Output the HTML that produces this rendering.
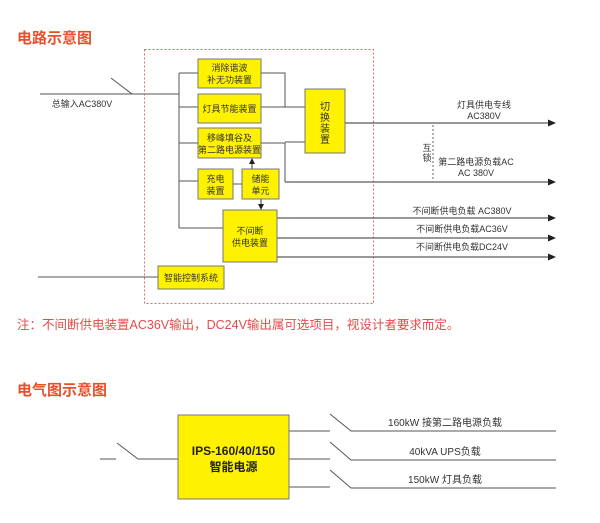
<!DOCTYPE html>
<html><head><meta charset="utf-8"><style>
html,body{margin:0;padding:0;background:#fff;}
svg{display:block;}
text{font-family:"Liberation Sans","Noto Sans CJK SC",sans-serif;}
</style></head><body>
<svg width="600" height="523" viewBox="0 0 600 523" xmlns="http://www.w3.org/2000/svg">
<defs><marker id="a" markerWidth="8" markerHeight="8" refX="7" refY="4" orient="auto" markerUnits="userSpaceOnUse"><path d="M0,0.5 L8,4 L0,7.5z" fill="#222"/></marker>
<marker id="s" markerWidth="6" markerHeight="6" refX="5" refY="3" orient="auto" markerUnits="userSpaceOnUse"><path d="M0,0 L6,3 L0,6z" fill="#222"/></marker></defs>
<text x="17" y="43" font-size="15" font-weight="bold" fill="#e8502a">电路示意图</text>
<rect x="144.5" y="49.5" width="229" height="254" fill="none" stroke="#e06a6a" stroke-dasharray="2,2" stroke-width="1"/>
<g stroke="#555" stroke-width="1" fill="none">
<path d="M40 94H111L132 94H179"/>
<path d="M111 78L132 94"/>
<path d="M179 73V228"/>
<path d="M179 73H198M179 107H198M179 143H198M179 181H198M179 228H223"/>
<path d="M233 184H242"/>
<path d="M261 73H285V107H305M261 107H285"/>
<path d="M261 143H285V182"/>
<path d="M285 142H305"/>
<path d="M38 277H158"/>
</g>
<g stroke="#333" stroke-width="1" fill="none">
<path d="M345 123H555" marker-end="url(#a)"/>
<path d="M285 182H555" marker-end="url(#a)"/>
<path d="M277 218H555" marker-end="url(#a)"/>
<path d="M277 238H555" marker-end="url(#a)"/>
<path d="M277 257H555" marker-end="url(#a)"/>
<path d="M252 169V159" marker-end="url(#s)"/>
<path d="M261 199V209" marker-end="url(#s)"/>
<path d="M433 125V181" stroke-dasharray="2,2" stroke="#666"/>
</g>
<g fill="#fff200" stroke="#777" stroke-width="1">
<rect x="198" y="59" width="63" height="29"/>
<rect x="198" y="94" width="63" height="29"/>
<rect x="198" y="128" width="63" height="30"/>
<rect x="198" y="169" width="35" height="30"/>
<rect x="242" y="169" width="37" height="30"/>
<rect x="223" y="210" width="54" height="52"/>
<rect x="158" y="266" width="66" height="23"/>
<rect x="305" y="89" width="40" height="64"/>
</g>
<g font-size="9" fill="#333" text-anchor="middle">
<text x="229.5" y="71">消除谐波</text><text x="229.5" y="83">补无功装置</text>
<text x="229.5" y="112">灯具节能装置</text>
<text x="229.5" y="141">移峰填谷及</text><text x="229.5" y="153">第二路电源装置</text>
<text x="215.5" y="182">充电</text><text x="215.5" y="194">装置</text>
<text x="260.5" y="182">储能</text><text x="260.5" y="194">单元</text>
<text x="250" y="234">不间断</text><text x="250" y="246">供电装置</text>
<text x="191" y="281">智能控制系统</text>
<g font-size="10"><text x="325" y="110">切</text><text x="325" y="121">换</text><text x="325" y="132">装</text><text x="325" y="143">置</text></g>
<text x="82" y="107">总输入AC380V</text>
<text x="484" y="108">灯具供电专线</text><text x="484" y="119">AC380V</text>
<text x="427" y="151">互</text><text x="427" y="161">锁</text>
<text x="476" y="165">第二路电源负载AC</text><text x="476" y="176">AC 380V</text>
<text x="462" y="214">不间断供电负载 AC380V</text>
<text x="462" y="232">不间断供电负载AC36V</text>
<text x="462" y="250">不间断供电负载DC24V</text>
</g>
<text x="17" y="329" font-size="12.5" fill="#e84a4a">注：不间断供电装置AC36V输出，DC24V输出属可选项目，视设计者要求而定。</text>
<text x="17" y="395" font-size="15" font-weight="bold" fill="#e8502a">电气图示意图</text>
<g stroke="#555" stroke-width="1" fill="none">
<path d="M100 459H116M117 443L138 459H178"/>
<path d="M289 431H330M330 414L351 431H556"/>
<path d="M289 459H330M330 442L351 460H556"/>
<path d="M289 487H330M330 470L351 488H556"/>
</g>
<rect x="178" y="415" width="111" height="84" fill="#fff200" stroke="#777"/>
<text x="233.5" y="455" font-size="12" font-weight="bold" fill="#222" text-anchor="middle">IPS-160/40/150</text>
<text x="233.5" y="471" font-size="12" font-weight="bold" fill="#222" text-anchor="middle">智能电源</text>
<g font-size="10" fill="#333" text-anchor="middle">
<text x="445" y="426">160kW 接第二路电源负载</text>
<text x="445" y="455">40kVA UPS负载</text>
<text x="445" y="483">150kW 灯具负载</text>
</g>
</svg>
</body></html>
